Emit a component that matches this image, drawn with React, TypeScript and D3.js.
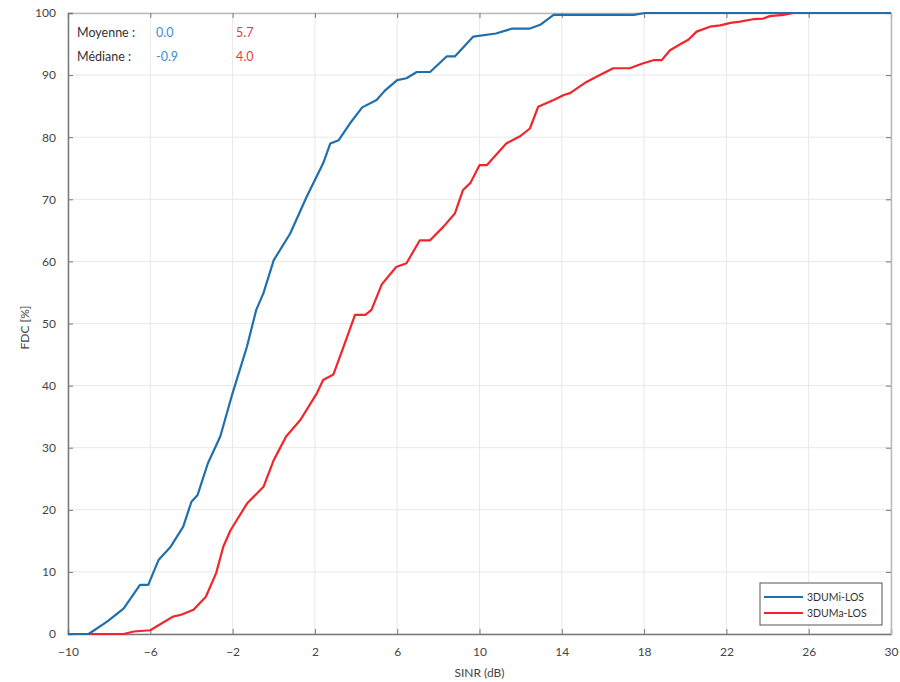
import React, { useEffect, useRef } from "react";
import * as d3 from "d3";

// 3DUMi-LOS curve (SINR dB, FDC %)
const miX = [-10, -9, -8.1, -7.3, -6.5, -6.1, -5.6, -5.0, -4.4, -4.0, -3.7, -3.2, -2.6, -2.0, -1.3, -0.85, -0.5, 0, 0.8, 1.6, 2.4, 2.75, 3.15, 3.7, 4.3, 5.0, 5.4, 6.0, 6.45, 6.95, 7.6, 8.4, 8.8, 9.7, 10.8, 11.6, 12.45, 12.95, 13.6, 17.5, 18.05, 30];
const miY = [0, 0, 2, 4.1, 7.9, 7.9, 11.9, 14.1, 17.3, 21.3, 22.4, 27.5, 31.8, 38.8, 46.3, 52.2, 54.9, 60.2, 64.5, 70.4, 75.8, 79, 79.5, 82.2, 84.8, 86, 87.5, 89.2, 89.5, 90.5, 90.5, 93, 93, 96.2, 96.7, 97.5, 97.5, 98.1, 99.7, 99.7, 100, 100];

// 3DUMa-LOS curve
const maX = [-10, -7.3, -6.8, -6.0, -5.7, -4.9, -4.5, -3.9, -3.3, -2.8, -2.45, -2.1, -1.3, -0.5, 0, 0.6, 1.3, 2.1, 2.4, 2.9, 3.4, 3.95, 4.45, 4.75, 5.25, 5.95, 6.45, 7.1, 7.6, 8.25, 8.8, 9.2, 9.55, 10.0, 10.35, 11.3, 11.95, 12.45, 12.85, 13.6, 14.1, 14.4, 15.2, 15.85, 16.5, 17.3, 17.96, 18.45, 18.85, 19.26, 19.82, 20.15, 20.55, 21.2, 21.7, 22.2, 22.66, 23.3, 23.8, 24.1, 24.77, 25.25, 30];
const maY = [0, 0, 0.4, 0.6, 1.2, 2.8, 3.1, 3.9, 6, 9.8, 14.1, 16.7, 21, 23.7, 28, 31.8, 34.5, 38.8, 40.9, 41.8, 46.3, 51.4, 51.4, 52.2, 56.3, 59.1, 59.7, 63.4, 63.4, 65.6, 67.7, 71.5, 72.6, 75.5, 75.5, 79, 80.1, 81.4, 84.9, 86, 86.8, 87.1, 88.9, 90, 91.1, 91.1, 91.9, 92.4, 92.4, 94, 95.1, 95.7, 97, 97.8, 98, 98.4, 98.6, 99, 99.1, 99.5, 99.7, 100, 100];

const xTicks = [-10, -6, -2, 2, 6, 10, 14, 18, 22, 26, 30];
const yTicks = [0, 10, 20, 30, 40, 50, 60, 70, 80, 90, 100];

const seriesNames = ["3DUMi-LOS", "3DUMa-LOS"];
const seriesColors = ["#1f6fae", "#f0262b"];
const statLabels = ["Moyenne :", "Médiane :"];
const miStats = ["0.0", "-0.9"];
const maStats = ["5.7", "4.0"];

const W = 900, H = 682;
const margin = { top: 13, right: 9, bottom: 48, left: 68 };
const font = "Lato, 'Open Sans', sans-serif";

export default function App() {
  const ref = useRef<SVGSVGElement>(null);

  useEffect(() => {
    const svg = d3.select(ref.current);
    svg.selectAll("*").remove();
    const w = W - margin.left - margin.right;
    const h = H - margin.top - margin.bottom;

    const x = d3.scaleLinear().domain([-10, 30]).range([0, w]);
    const y = d3.scaleLinear().domain([0, 100]).range([h, 0]);

    svg.append("rect").attr("width", W).attr("height", H).attr("fill", "#fff");
    const g = svg.append("g").attr("transform", `translate(${margin.left},${margin.top})`);

    // grid
    g.selectAll(".vgrid").data(xTicks).join("line")
      .attr("x1", d => x(d)).attr("x2", d => x(d)).attr("y1", 0).attr("y2", h)
      .attr("stroke", "#e8e8e8").attr("stroke-width", 1);
    g.selectAll(".hgrid").data(yTicks).join("line")
      .attr("x1", 0).attr("x2", w).attr("y1", d => y(d)).attr("y2", d => y(d))
      .attr("stroke", "#e8e8e8").attr("stroke-width", 1);

    // axes (ticks inward)
    const axisColor = "#777";
    const xa = g.append("g").attr("transform", `translate(0,${h})`)
      .call(d3.axisBottom(x).tickValues(xTicks).tickSize(-5).tickPadding(13));
    const xTop = g.append("g").call(d3.axisTop(x).tickValues(xTicks).tickSize(-5).tickFormat(() => ""));
    const ya = g.append("g").call(d3.axisLeft(y).tickValues(yTicks).tickSize(-5).tickPadding(12));
    const yRight = g.append("g").attr("transform", `translate(${w},0)`)
      .call(d3.axisRight(y).tickValues(yTicks).tickSize(-5).tickFormat(() => ""));
    [xa, xTop, ya, yRight].forEach(a => {
      a.select(".domain").attr("stroke", axisColor).attr("stroke-width", 1.5);
      a.selectAll(".tick line").attr("stroke", axisColor);
      a.selectAll("text").attr("fill", "#444").attr("font-family", font).attr("font-size", 12);
    });
    xTop.select(".domain").attr("stroke", "#bbb");
    yRight.select(".domain").attr("stroke", "#bbb");

    // curves
    const line = d3.line<[number, number]>().x(d => x(d[0])).y(d => y(d[1]));
    const series: [number, number][][] = [
      miX.map((v, i) => [v, miY[i]]),
      maX.map((v, i) => [v, maY[i]]),
    ];
    // draw red first so blue sits on top where they overlap at 100
    [1, 0].forEach(i => {
      g.append("path").datum(series[i]).attr("d", line)
        .attr("fill", "none").attr("stroke", seriesColors[i])
        .attr("stroke-width", 2.2).attr("stroke-linejoin", "round");
    });

    // axis labels
    svg.append("text").attr("x", margin.left + x(10)).attr("y", 677)
      .attr("text-anchor", "middle").attr("font-family", font).attr("font-size", 12)
      .attr("fill", "#444").text("SINR (dB)");
    svg.append("text").attr("transform", `translate(29,${margin.top + h / 2 + 4}) rotate(-90)`)
      .attr("text-anchor", "middle").attr("font-family", font).attr("font-size", 12)
      .attr("fill", "#444").text("FDC [%]");

    // stats annotation
    statLabels.forEach((s, i) => {
      const yy = 37 + i * 24;
      svg.append("text").attr("x", 77).attr("y", yy).attr("font-family", font)
        .attr("font-size", 12.5).attr("fill", "#333").text(s);
      svg.append("text").attr("x", 156).attr("y", yy).attr("font-family", font)
        .attr("font-size", 12.5).attr("fill", "#3d8fd0").text(miStats[i]);
      svg.append("text").attr("x", 236).attr("y", yy).attr("font-family", font)
        .attr("font-size", 12.5).attr("fill", "#e8393c").text(maStats[i]);
    });

    // legend
    const lg = svg.append("g").attr("transform", "translate(760,583)");
    lg.append("rect").attr("width", 122).attr("height", 42)
      .attr("fill", "#fff").attr("stroke", "#555").attr("stroke-width", 1);
    seriesNames.forEach((n, i) => {
      const yy = 14 + i * 16;
      lg.append("line").attr("x1", 4).attr("x2", 43).attr("y1", yy).attr("y2", yy)
        .attr("stroke", seriesColors[i]).attr("stroke-width", 2.2);
      lg.append("text").attr("x", 47).attr("y", yy + 4).attr("font-family", font)
        .attr("font-size", 10.5).attr("fill", "#333").text(n);
    });
  }, []);

  return (
    <svg ref={ref} width={W} height={H}
      style={{ position: "absolute", left: 0, top: 0 }} />
  );
}
